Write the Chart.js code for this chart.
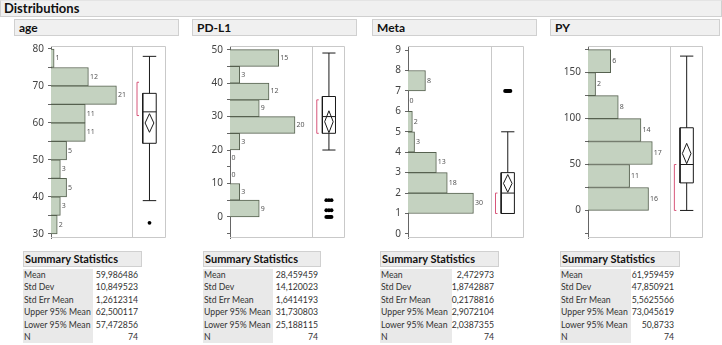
<!DOCTYPE html>
<html><head><meta charset="utf-8">
<script src="https://cdn.jsdelivr.net/npm/chart.js@4.4.1/dist/chart.umd.min.js"></script>
<style>
html,body{margin:0;padding:0;background:#fff;width:722px;height:345px;overflow:hidden;font-family:Lato,"Noto Sans",sans-serif;color:#222;}
.hbar{position:absolute;background:#f0f0f0;border:1px solid #d0d0d0;box-sizing:border-box;font-weight:bold;color:#111;white-space:nowrap;}
#dist{left:0;top:0;width:722px;height:17px;font-size:13px;line-height:15px;padding-left:3px;border-top-color:#e4e4e4;}
.ph{top:19px;height:17px;font-size:12px;line-height:15px;padding-left:4px;}
canvas{position:absolute;top:36px;}
.st{position:absolute;top:251px;font-size:8.7px;color:#333;}
.st .hd{height:16px;box-sizing:border-box;background:#ececec;border:1px solid #d0d0d0;font-weight:bold;font-size:11px;line-height:14px;padding-left:1px;color:#111;white-space:nowrap;}
.st .tb{position:relative;margin-top:2px;}
.st .rw{position:relative;height:12.4px;line-height:12.4px;white-space:nowrap;}
.st .lb{position:absolute;left:1px;}
.st .vl{position:absolute;text-align:right;}
</style></head>
<body>
<div id="dist" class="hbar">Distributions</div>
<script>
// ---------- data ----------
const ageBins = [30,35,40,45,50,55,60,65,70,75];
const ageCounts = [2,3,5,3,5,11,11,21,12,1];
const pdl1Bins = [0,5,10,15,20,25,30,35,40,45];
const pdl1Counts = [9,3,0,0,3,20,9,12,3,15];
const metaBins = [1,2,3,4,5,6,7];
const metaCounts = [30,18,13,3,2,0,8];
const pyBins = [0,25,50,75,100,125,150];
const pyCounts = [16,11,17,14,8,2,6];

// axis ticks (labels shown on multiples of the label step)
const ageTicks = [30,35,40,45,50,55,60,65,70,75,80];
const pdl1Ticks = [-5,0,5,10,15,20,25,30,35,40,45,50];
const metaTicks = [0,1,2,3,4,5,6,7,8,9];
const pyTicks = [-25,0,25,50,75,100,125,150,175];

// box plots: [lower whisker, Q1, median, Q3, upper whisker]
const ageBox = [39,54.5,63,68,78];
const pdl1Box = [20,25,30,36,49];
const metaBox = [1,1,2,3,5];
const pyBox = [0,30,50,90,168];
const ageOutliers = [33];
const pdl1Outliers = [0,0,0,0,0,0,2,2,2,5,5,5];
const metaOutliers = [7,7,7,7,7,7,7,7];
const pyOutliers = [];
const ageShortestHalf = [62,71];
const pdl1ShortestHalf = [25,35];
const metaShortestHalf = [1,2];
const pyShortestHalf = [0,50];
// mean diamond: [lower 95%, mean, upper 95%]
const ageMeanCI = [57.472856,59.986486,62.500117];
const pdl1MeanCI = [25.188115,28.459459,31.730803];
const metaMeanCI = [2.0387355,2.472973,2.9072104];
const pyMeanCI = [50.8733,61.959459,73.045619];

const statLabels = ['Mean','Std Dev','Std Err Mean','Upper 95% Mean','Lower 95% Mean','N'];
const ageStats = ['59,986486','10,849523','1,2612314','62,500117','57,472856','74'];
const pdl1Stats = ['28,459459','14,120023','1,6414193','31,730803','25,188115','74'];
const metaStats = ['2,472973','1,8742887','0,2178816','2,9072104','2,0387355','74'];
const pyStats = ['61,959459','47,850921','5,5625566','73,045619','50,8733','74'];

const varNames = ['age','PD-L1','Meta','PY'];

// ---------- layout / style ----------
const panels = [
  {name:varNames[0], bins:ageBins, counts:ageCounts, bw:5, ticks:ageTicks, box:ageBox, out:ageOutliers, sh:ageShortestHalf, ci:ageMeanCI, stats:ageStats,
   ymin:28.9, ymax:80.8, lab:10, xmax:26.1, hW:82, bW:34, cl:16, cw:154,
   hdL:14, hdW:165, tL:23, tW:119, lW:70, vR:4},
  {name:varNames[1], bins:pdl1Bins, counts:pdl1Counts, bw:5, ticks:pdl1Ticks, box:pdl1Box, out:pdl1Outliers, sh:pdl1ShortestHalf, ci:pdl1MeanCI, stats:pdl1Stats,
   ymin:-6.3, ymax:51.1, lab:10, xmax:25.3, hW:82.7, bW:33, cl:195, cw:154,
   hdL:192, hdW:165, tL:203, tW:118, lW:70, vR:3},
  {name:varNames[2], bins:metaBins, counts:metaCounts, bw:1, ticks:metaTicks, box:metaBox, out:metaOutliers, sh:metaShortestHalf, ci:metaMeanCI, stats:metaStats,
   ymin:-0.2, ymax:9.2, lab:1, xmax:38, hW:83.3, bW:33.3, cl:373, cw:155,
   hdL:372, hdW:165, tL:380, tW:119, lW:72, vR:5},
  {name:varNames[3], bins:pyBins, counts:pyCounts, bw:25, ticks:pyTicks, box:pyBox, out:pyOutliers, sh:pyShortestHalf, ci:pyMeanCI, stats:pyStats,
   ymin:-30, ymax:179, lab:50, xmax:21.6, hW:81.7, bW:33.3, cl:553, cw:153,
   hdL:550, hdW:170, tL:560, tW:120, lW:71, vR:6}
];

const framePlugin = {
  id:'frame',
  beforeDatasetsDraw(chart){
    const {ctx, chartArea:a, scales} = chart;
    ctx.save();
    ctx.strokeStyle = '#c9c9c9'; ctx.lineWidth = 1;
    const L = Math.round(a.left), R = Math.round(a.right)-0.5, T = Math.round(a.top)+0.5, B = Math.round(a.bottom)-0.5;
    ctx.beginPath();
    ctx.moveTo(L, T); ctx.lineTo(R, T); ctx.lineTo(R, B); ctx.lineTo(L, B);
    const dx = Math.round(scales.x.right)+0.5;
    ctx.moveTo(dx, T); ctx.lineTo(dx, B);
    ctx.stroke();
    ctx.restore();
  }
};
const countPlugin = {
  id:'counts',
  afterDatasetsDraw(chart){
    const meta = chart.getDatasetMeta(0);
    const vals = chart.data.datasets[0].data;
    const ctx = chart.ctx;
    ctx.save();
    ctx.font = '7px "Noto Sans", sans-serif';
    ctx.fillStyle = '#555';
    ctx.textBaseline = 'middle';
    meta.data.forEach((el, i) => { ctx.fillText(String(vals[i].x), el.x + 1.5, el.y); });
    ctx.restore();
  }
};

const BC = 0.51, BH = 0.2, DH = 0.13, BRX = 0.14, BRT = 0.2;

panels.forEach(p => {
  const hd = document.createElement('div');
  hd.className = 'hbar ph'; hd.textContent = p.name;
  hd.style.left = p.hdL + 'px'; hd.style.width = p.hdW + 'px';
  document.body.appendChild(hd);

  const cv = document.createElement('canvas');
  cv.width = p.cw; cv.height = 212;
  cv.style.left = p.cl + 'px';
  document.body.appendChild(cv);

  const [wLo, q1, med, q3, wHi] = p.box;
  const whisk = [
    {x:BC-BH, y:wLo},{x:BC+BH, y:wLo},{x:BC, y:null},
    {x:BC, y:wLo},{x:BC, y:q1},{x:BC, y:null},
    {x:BC, y:q3},{x:BC, y:wHi},{x:BC, y:null},
    {x:BC-BH, y:wHi},{x:BC+BH, y:wHi}
  ];
  const boxPoly = [{x:BC-BH,y:q1},{x:BC+BH,y:q1},{x:BC+BH,y:q3},{x:BC-BH,y:q3},{x:BC-BH,y:q1},{x:BC,y:null},{x:BC-BH,y:med},{x:BC+BH,y:med}];
  const diamond = [{x:BC,y:p.ci[0]},{x:BC+DH,y:p.ci[1]},{x:BC,y:p.ci[2]},{x:BC-DH,y:p.ci[1]},{x:BC,y:p.ci[0]}];
  const bracket = [{x:BRT,y:p.sh[0]},{x:BRX,y:p.sh[0]},{x:BRX,y:p.sh[1]},{x:BRT,y:p.sh[1]}];
  const seen = {};
  const outs = p.out.map(v => { const k = seen[v] = (seen[v]||0)+1; const n = p.out.filter(u=>u===v).length; const off = n>1 ? (-0.08 + 0.16*(k-1)/(n-1)) : 0; return {x:BC+off, y:v}; });

  const lineDs = (data, color, extra) => Object.assign({type:'line', xAxisID:'xb', yAxisID:'y', data, borderColor:color, borderWidth:1, pointRadius:0, fill:false, spanGaps:false, tension:0}, extra||{});

  new Chart(cv.getContext('2d'), {
    type:'bar',
    data:{datasets:[
      {type:'bar', indexAxis:'y', xAxisID:'x', yAxisID:'y', grouped:false,
       data:p.bins.map((b,i)=>({x:p.counts[i], y:b + p.bw/2})),
       backgroundColor:'#c4d2c0', borderColor:'#56614f', borderWidth:1, borderSkipped:'start',
       barPercentage:1, categoryPercentage:1},
      lineDs(whisk, '#1a1a1a'),
      lineDs(boxPoly, '#1a1a1a'),
      lineDs(diamond, '#1a1a1a'),
      lineDs(bracket, '#d8567a'),
      lineDs(outs, '#000', {showLine:false, pointRadius:1.9, pointBackgroundColor:'#000', pointBorderWidth:0})
    ]},
    options:{
      responsive:false, animation:false, events:[],
      layout:{padding:{left:0, right:3, top:6, bottom:5}},
      plugins:{legend:{display:false}, tooltip:{enabled:false}},
      scales:{
        x:{type:'linear', position:'bottom', stack:'h', stackWeight:p.hW, min:0, max:p.xmax, display:false, offset:false, grid:{offset:false}, beginAtZero:false},
        xb:{type:'linear', position:'bottom', stack:'h', stackWeight:p.bW, min:0, max:1, display:false, offset:false, grid:{offset:false}, beginAtZero:false},
        y:{type:'linear', position:'left', min:p.ymin, max:p.ymax, bounds:'data', offset:false, beginAtZero:false,
           afterBuildTicks:(s)=>{ s.ticks = p.ticks.map(v=>({value:v})); },
           ticks:{autoSkip:false, padding:4, color:'#444',
                  font:{size:10, family:'"Noto Sans", sans-serif'},
                  callback:(v)=> (Math.abs(v/p.lab - Math.round(v/p.lab)) < 1e-6 && v >= 0 ? String(v) : '')},
           grid:{drawOnChartArea:false, drawTicks:true, tickLength:3, color:'#666', offset:false},
           border:{color:'#666'},
           afterFit:(s)=>{ s.width = 35; }}
      }
    },
    plugins:[framePlugin, countPlugin]
  });

  const st = document.createElement('div');
  st.className = 'st'; st.style.left = p.tL + 'px'; st.style.width = p.tW + 'px';
  const h = document.createElement('div'); h.className = 'hd'; h.textContent = 'Summary Statistics';
  st.appendChild(h);
  const tb = document.createElement('div'); tb.className = 'tb';
  tb.style.background = `linear-gradient(to right, #e9e9e9 ${p.lW}px, #fff ${p.lW}px)`;
  statLabels.forEach((lab, i) => {
    const r = document.createElement('div'); r.className = 'rw';
    const a = document.createElement('span'); a.className = 'lb'; a.textContent = lab;
    const b = document.createElement('span'); b.className = 'vl'; b.textContent = p.stats[i];
    b.style.right = p.vR + 'px';
    r.appendChild(a); r.appendChild(b); tb.appendChild(r);
  });
  st.appendChild(tb);
  document.body.appendChild(st);
});
</script>
</body></html>
